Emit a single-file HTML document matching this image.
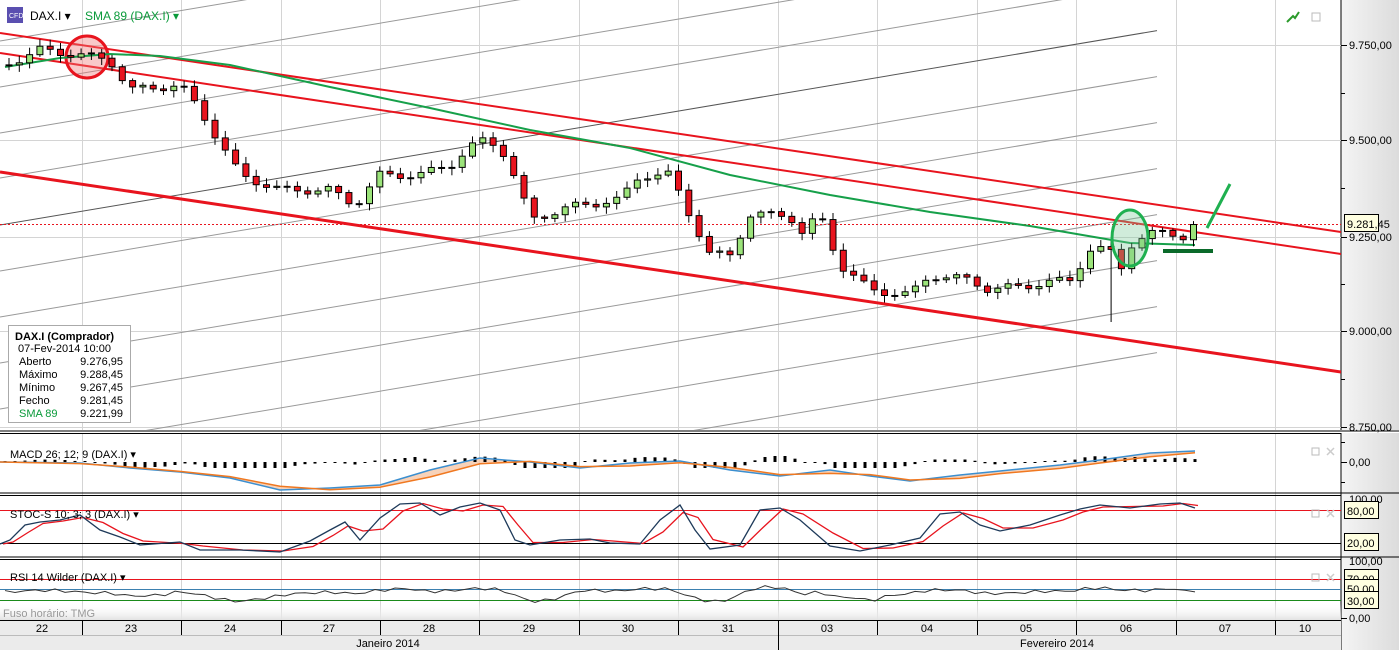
<!DOCTYPE html>
<html><head><meta charset="utf-8"><style>
html,body{margin:0;padding:0;background:#fff;}
body{width:1399px;height:650px;overflow:hidden;font-family:"Liberation Sans",sans-serif;}
svg text{font-family:"Liberation Sans",sans-serif;}
</style></head><body>
<svg id="s" width="1399" height="650" xmlns="http://www.w3.org/2000/svg">
<defs>
<linearGradient id="ax" x1="0" x2="1"><stop offset="0" stop-color="#f4f4f4"/><stop offset="1" stop-color="#dcdcdc"/></linearGradient>
<linearGradient id="bt" x1="0" y1="0" x2="0" y2="1"><stop offset="0" stop-color="#ffffff" stop-opacity="0"/><stop offset="1" stop-color="#e2e2e2"/></linearGradient>
<clipPath id="cm"><rect x="0" y="0" width="1341" height="430"/></clipPath>
<clipPath id="ci"><rect x="0" y="434" width="1341" height="186"/></clipPath>
</defs>
<rect x="0" y="0" width="1399" height="650" fill="#fff"/>
<rect x="1341" y="0" width="58" height="650" fill="url(#ax)"/>
<line x1="1341" y1="0" x2="1341" y2="650" stroke="#000"/>
<g id="grid" stroke="#d4d4d4" stroke-width="1"></g>
<g id="main" clip-path="url(#cm)"></g>
<g id="ind" clip-path="url(#ci)"></g>
<rect x="0" y="430" width="1399" height="3" fill="#fff"/>
<line x1="0" y1="431" x2="1399" y2="431" stroke="#000"/>
<line x1="0" y1="433.5" x2="1341" y2="433.5" stroke="#000"/>
<line x1="0" y1="493" x2="1399" y2="493" stroke="#000"/>
<line x1="0" y1="495.5" x2="1341" y2="495.5" stroke="#000"/>
<line x1="0" y1="557" x2="1399" y2="557" stroke="#000"/>
<line x1="0" y1="559.5" x2="1341" y2="559.5" stroke="#000"/>
<rect x="0" y="603" width="1341" height="17" fill="url(#bt)"/>
<text x="3" y="617" font-size="11" fill="#999">Fuso horário: TMG</text>
<rect x="0" y="620" width="1341" height="30" fill="#ebebeb"/>
<line x1="0" y1="620.5" x2="1341" y2="620.5" stroke="#000"/>
<line x1="0" y1="635.5" x2="1341" y2="635.5" stroke="#bbb"/>
<g id="dates" font-size="11" fill="#000" text-anchor="middle"></g>
<text x="388" y="647" font-size="11" text-anchor="middle">Janeiro 2014</text>
<text x="1057" y="647" font-size="11" text-anchor="middle">Fevereiro 2014</text>
<rect x="7" y="7" width="16" height="16" fill="#5a4fb0"/><text x="9" y="18" font-size="7" fill="#fff">CFD</text>
<text x="30" y="20" font-size="12">DAX.I ▾</text>
<text x="85" y="20" font-size="12" fill="#0a9a3a">SMA 89 (DAX.I) ▾</text>
<text x="10" y="458" font-size="11">MACD 26; 12; 9 (DAX.I) ▾</text>
<text x="10" y="518" font-size="11">STOC-S 10; 3; 3 (DAX.I) ▾</text>
<text x="10" y="581" font-size="11">RSI 14 Wilder (DAX.I) ▾</text>
<path d="M1287 22 l6 -6 l2 2 l4 -6" stroke="#2a9a2a" stroke-width="2" fill="none"/>
<rect x="1312" y="13" width="8" height="8" fill="none" stroke="#bbb"/>
<g fill="none" stroke="#bbb"><rect x="1312" y="448" width="7" height="7"/><rect x="1312" y="510" width="7" height="7"/><rect x="1312" y="574" width="7" height="7"/></g>
<g stroke="#ccc" stroke-width="1.5"><path d="M1327 448 l7 7 M1334 448 l-7 7 M1327 510 l7 7 M1334 510 l-7 7 M1327 574 l7 7 M1334 574 l-7 7"/></g>
<rect x="8.5" y="325.5" width="122" height="97" fill="#fff" stroke="#aaa"/>
<g font-size="11">
<text x="15" y="340" font-weight="bold">DAX.I (Comprador)</text>
<text x="18" y="352">07-Fev-2014 10:00</text>
<text x="19" y="365">Aberto</text><text x="123" y="365" text-anchor="end">9.276,95</text>
<text x="19" y="378">Máximo</text><text x="123" y="378" text-anchor="end">9.288,45</text>
<text x="19" y="391">Mínimo</text><text x="123" y="391" text-anchor="end">9.267,45</text>
<text x="19" y="404">Fecho</text><text x="123" y="404" text-anchor="end">9.281,45</text>
<text x="19" y="417" fill="#0a9a3a">SMA 89</text><text x="123" y="417" text-anchor="end">9.221,99</text>
</g>
<g id="axis" font-size="11"></g>
</svg>
<script>
var NS="http://www.w3.org/2000/svg";
function el(p,t,a){var e=document.createElementNS(NS,t);for(var k in a)e.setAttribute(k,a[k]);document.getElementById(p).appendChild(e);return e;}
function txt(p,x,y,s,a){var e=el(p,"text",Object.assign({x:x,y:y},a||{}));e.textContent=s;return e;}
var vx=[82,181,281,380,479,579,678,778,877,977,1076,1176,1275];
vx.forEach(function(x){el("grid","line",{x1:x+.5,y1:0,x2:x+.5,y2:620});});
[45,140,237,331,427].forEach(function(y){el("grid","line",{x1:0,y1:y+.5,x2:1341,y2:y+.5});});
var dl=[[42,"22"],[131,"23"],[230,"24"],[329,"27"],[429,"28"],[529,"29"],[628,"30"],[728,"31"],[827,"03"],[927,"04"],[1026,"05"],[1126,"06"],[1225,"07"],[1305,"10"]];
dl.forEach(function(d){txt("dates",d[0],632,d[1]);});
vx.forEach(function(x){el("dates","line",{x1:x+.5,y1:620,x2:x+.5,y2:635,stroke:"#000"});});
el("dates","line",{x1:778.5,y1:635,x2:778.5,y2:650,stroke:"#000"});
[[45,"9.750,00"],[140,"9.500,00"],[237,"9.250,00"],[331,"9.000,00"],[427,"8.750,00"]].forEach(function(a){el("axis","line",{x1:1341,y1:a[0]+.5,x2:1347,y2:a[0]+.5,stroke:"#000"});txt("axis",1349,a[0]+4,a[1]);});
[93,188,284,379].forEach(function(y){el("axis","line",{x1:1341,y1:y+.5,x2:1345,y2:y+.5,stroke:"#000"});});
[442,482].forEach(function(y){el("axis","line",{x1:1341,y1:y+.5,x2:1345,y2:y+.5,stroke:"#000"});});
el("axis","line",{x1:1341,y1:462.5,x2:1347,y2:462.5,stroke:"#000"});txt("axis",1349,466,"0,00");
el("axis","line",{x1:1341,y1:618.5,x2:1347,y2:618.5,stroke:"#000"});txt("axis",1349,622,"0,00");
txt("axis",1349,503,"100,00");txt("axis",1349,565,"100,00");
function box(y,s){el("axis","rect",{x:1344.5,y:y-9.5,width:34,height:17,fill:"#ffffe1",stroke:"#000"});txt("axis",1347,y+4,s);}
box(224,"9.281,45");box(511,"80,00");box(543,"20,00");box(579,"70,00");box(589,"50,00");box(601,"30,00");
var M="main";
[-5,41,87,133,178,225,271,317,363,409,455,501,547].forEach(function(b){el(M,"line",{x1:0,y1:b,x2:1157,y2:b-0.168*1157,stroke:b==225?"#555":"#999","stroke-width":1});});
el(M,"line",{x1:0,y1:33,x2:1341,y2:232,stroke:"#e8141e","stroke-width":2});
el(M,"line",{x1:0,y1:53,x2:1341,y2:254,stroke:"#e8141e","stroke-width":2});
el(M,"line",{x1:0,y1:172,x2:1341,y2:372,stroke:"#e8141e","stroke-width":3});
el(M,"circle",{cx:87,cy:57,r:21,fill:"rgba(240,120,120,0.4)",stroke:"#e8141e","stroke-width":3});
el(M,"line",{x1:0,y1:224.5,x2:1341,y2:224.5,stroke:"#e8141e","stroke-dasharray":"2,2"});
var sma=[[5,67],[60,58],[110,54],[160,56],[230,65],[330,87],[430,108],[530,130],[630,148],[730,175],[830,195],[930,212],[1030,226],[1100,238],[1130,243],[1195,245]];
el(M,"polyline",{points:sma.map(function(p){return p.join(",")}).join(" "),fill:"none",stroke:"#16a04a","stroke-width":2});
var kp=[[5,65],[40,50],[80,55],[110,60],[130,90],[180,85],[200,110],[240,175],[280,190],[330,190],[355,205],[380,175],[420,175],[450,165],[480,140],[500,145],[520,190],[530,220],[560,210],[580,205],[620,200],[640,175],[670,175],[690,215],[710,255],[730,255],[750,215],[790,215],[800,235],[820,215],[840,265],[870,290],[910,295],[930,275],[970,280],[990,290],[1030,285],[1070,280],[1090,250],[1110,250],[1120,270],[1130,245],[1150,235],[1170,230],[1180,240],[1195,225]];
function interp(x){for(var i=1;i<kp.length;i++){if(x<=kp[i][0]){var a=kp[i-1],b=kp[i];return a[1]+(b[1]-a[1])*(x-a[0])/(b[0]-a[0]);}}return kp[kp.length-1][1];}
var prev=interp(5);
for(var x=9;x<=1196;x+=10.3){var c=interp(x)+Math.sin(x*1.7)*4;var o=prev;var hi=Math.min(o,c)-2-Math.abs(Math.sin(x*.9))*5,lo=Math.max(o,c)+2+Math.abs(Math.cos(x*1.3))*5;
if(x>1105&&x<1115)lo=322;
el(M,"line",{x1:x,y1:hi,x2:x,y2:lo,stroke:"#000"});
var t=Math.min(o,c),h=Math.max(1,Math.abs(o-c));
el(M,"rect",{x:x-3,y:t,width:6,height:h,fill:c<o?"#9be37a":"#e8141e",stroke:"#000","stroke-width":1});prev=c;}
el(M,"ellipse",{cx:1130,cy:238,rx:18,ry:28,fill:"rgba(120,200,150,0.35)",stroke:"#1fb050","stroke-width":3});
el(M,"line",{x1:1163,y1:251,x2:1213,y2:251,stroke:"#0a6a2a","stroke-width":4});
el(M,"line",{x1:1207,y1:228,x2:1230,y2:184,stroke:"#1fb050","stroke-width":3});
function pl(pts,col,w){el("ind","polyline",{points:pts.map(function(p){return p.join(",")}).join(" "),fill:"none",stroke:col,"stroke-width":w||1});}
var mb=[[0,462],[80,463],[130,468],[180,472],[230,478],[280,490],[330,488],[380,485],[430,470],[480,458],[530,462],[580,468],[630,463],[680,461],[730,470],[780,476],[830,470],[870,476],[910,481],[960,475],[1000,471],[1060,465],[1100,460],[1150,453],[1195,451]];
var mo=mb.map(function(p,i){var q=mb[Math.max(0,i-1)];return [p[0],(p[1]*0.6+q[1]*0.4)+(i>0?1:0)];});
el("ind","polygon",{points:mb.concat(mo.slice().reverse()).map(function(p){return p.join(",")}).join(" "),fill:"#f5c7a8",opacity:0.8});
for(var x=5;x<1197;x+=10){var v=interp(x)-interp(Math.max(5,x-60));var h=Math.max(1,Math.min(6,Math.abs(v)/6));el("ind","rect",{x:x-1.5,y:v>0?462:462-h,width:3,height:h,fill:"#000"});}
pl(mb,"#3b8fd0",1.5);pl(mo,"#f07820",1.5);
el("ind","line",{x1:0,y1:510.5,x2:1341,y2:510.5,stroke:"#e8141e"});
el("ind","line",{x1:0,y1:543.5,x2:1341,y2:543.5,stroke:"#000"});
var st=[[0,544],[10,540],[25,525],[40,522],[60,520],[80,515],[100,530],[120,537],[140,545],[180,542],[200,550],[240,550],[280,552],[310,541],[330,530],[345,522],[360,540],[380,518],[400,504],[420,503],[440,515],[460,507],[480,503],[500,510],[515,540],[530,545],[560,540],[590,539],[610,543],[640,544],[660,520],[680,505],[695,530],[710,549],[740,545],[760,510],[780,508],[800,520],[830,546],[860,551],[890,545],[920,538],[940,514],[960,512],[980,525],[1000,531],[1030,525],[1060,515],[1080,509],[1100,505],[1130,508],[1160,504],[1180,503],[1195,508]];
var sr=st.map(function(p,i){var q=st[Math.max(0,i-1)];return [p[0]+3,(p[1]+q[1])/2];});
pl(sr,"#e8141e",1.3);pl(st,"#1e3a5a",1.3);
el("ind","line",{x1:0,y1:579.5,x2:1341,y2:579.5,stroke:"#e8141e"});
el("ind","line",{x1:0,y1:589.5,x2:1341,y2:589.5,stroke:"#3b80b0"});
el("ind","line",{x1:0,y1:600.5,x2:1341,y2:600.5,stroke:"#1a8a1a"});
var rs=[];for(var x=5;x<=1195;x+=10){var v=interp(x)-interp(Math.max(5,x-50));rs.push([x,Math.max(582,Math.min(605,592+v*0.12+Math.sin(x)*1.5))]);}
pl(rs,"#333",1);
</script>
</body></html>
